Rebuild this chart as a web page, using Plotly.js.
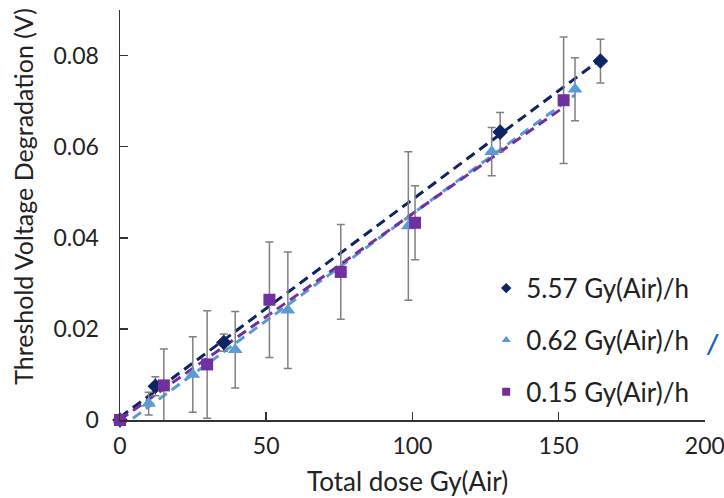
<!DOCTYPE html>
<html><head><meta charset="utf-8">
<script src="https://cdn.plot.ly/plotly-3.0.1.min.js"></script>
<style>html,body{margin:0;padding:0;background:#fff}#chart{width:724px;height:498px}</style>
</head><body><div id="chart"></div>
<script>
// ---- data ----
const seriesNames = ['5.57 Gy(Air)/h', '0.62 Gy(Air)/h', '0.15 Gy(Air)/h'];

const dose557 = [0, 12.1, 35.5, 130, 164.3];
const vth557  = [0, 0.0074, 0.0170, 0.0632, 0.0788];
const err557  = [0, 0.0021, 0.0019, 0.0043, 0.0048];

const dose062 = [0, 9.8, 24.9, 39.4, 57.4, 98.6, 127.1, 155.6];
const vth062  = [0, 0.0036, 0.0100, 0.0154, 0.0241, 0.0426, 0.0589, 0.0726];
const err062  = [0, 0.0025, 0.0083, 0.0084, 0.0128, 0.0163, 0.0053, 0.0069];

const dose015 = [0, 15, 29.8, 51.1, 75.5, 100.9, 151.7];
const vth015  = [0, 0.0076, 0.0122, 0.0264, 0.0325, 0.0433, 0.0702];
const err015  = [0, 0.0080, 0.0118, 0.0127, 0.0104, 0.0081, 0.0139];

const xTicks = [0, 50, 100, 150, 200];
const yTicks = [0, 0.02, 0.04, 0.06, 0.08];
const yTickText = ['0', '0.02', '0.04', '0.06', '0.08'];

const xTitle = 'Total dose Gy(Air)';
const yTitle = 'Threshold Voltage Degradation (V)';

// ---- styling ----
const colors = ['#0e2463', '#5b9bd5', '#7030a0'];
const symbols = ['diamond', 'triangle-up', 'square'];
const sizes = [12, 13, 12];
const FONT = 'Lato, "Open Sans", sans-serif';

function linFit(x, y) {
  const n = x.length;
  let sx = 0, sy = 0, sxx = 0, sxy = 0;
  for (let i = 0; i < n; i++) { sx += x[i]; sy += y[i]; sxx += x[i]*x[i]; sxy += x[i]*y[i]; }
  const m = (n*sxy - sx*sy) / (n*sxx - sx*sx);
  const b = (sy - m*sx) / n;
  return {m, b};
}

const sets = [[dose557, vth557, err557], [dose062, vth062, err062], [dose015, vth015, err015]];
const traces = [];

// trendlines
sets.forEach((s, i) => {
  const f = linFit(s[0], s[1]);
  const xmax = Math.max(...s[0]);
  traces.push({
    x: [0, xmax], y: [f.b, f.b + f.m*xmax], mode: 'lines', showlegend: false, hoverinfo: 'skip',
    line: {color: colors[i], width: 3, dash: '10px,6px'}
  });
});
// data points with error bars
sets.forEach((s, i) => {
  traces.push({
    x: s[0], y: s[1], mode: 'markers', showlegend: false, cliponaxis: false,
    marker: {symbol: symbols[i], size: sizes[i], color: colors[i]},
    error_y: {type: 'data', array: s[2], visible: true, color: '#808080', thickness: 1.5, width: 4}
  });
});
// legend entries (small markers)
sets.forEach((s, i) => {
  traces.push({
    x: [null], y: [null], mode: 'markers', name: seriesNames[i], legendgroup: 'g' + i,
    marker: {symbol: symbols[i], size: 8, color: colors[i]}
  });
});

const L = 119.5, R = 19, T = 10, B = 77.5;
const W = 724 - L - R, H = 498 - T - B;
const px = (x) => (x - L) / W;
const py = (y) => (498 - B - y) / H;

const axisCommon = {
  showline: true, linecolor: '#333', linewidth: 1.5, ticks: 'inside', ticklen: 8, tickwidth: 1.5,
  tickcolor: '#333', showgrid: false, zeroline: false, fixedrange: true,
  tickfont: {family: FONT, size: 23, color: '#222'}, ticklabeloverflow: 'allow'
};

const layout = {
  width: 724, height: 498,
  margin: {l: L, r: R, t: T, b: B, pad: 0},
  paper_bgcolor: '#fff', plot_bgcolor: '#fff',
  font: {family: FONT, color: '#222'},
  xaxis: Object.assign({}, axisCommon, {range: [0, 200.05], tickvals: xTicks, ticklabelstandoff: 5}),
  yaxis: Object.assign({}, axisCommon, {range: [0, 0.09], tickvals: yTicks, ticktext: yTickText, ticklabelstandoff: 15}),
  showlegend: true,
  legend: {
    x: px(486), y: py(265), xanchor: 'left', yanchor: 'top',
    bgcolor: 'rgba(0,0,0,0)', borderwidth: 0,
    font: {family: FONT, size: 26, color: '#222'},
    traceorder: 'grouped', tracegroupgap: 15
  },
  annotations: [
    {text: xTitle, xref: 'paper', yref: 'paper', x: px(407), y: py(482), xanchor: 'center', yanchor: 'middle',
     showarrow: false, font: {family: FONT, size: 26, color: '#222'}},
    {text: yTitle, xref: 'paper', yref: 'paper', x: px(23), y: py(196.5), xanchor: 'center', yanchor: 'middle',
     textangle: -90, showarrow: false, font: {family: FONT, size: 25, color: '#222'}},
    {text: '<b><i>/</i></b>', xref: 'paper', yref: 'paper', x: px(713), y: py(343), xanchor: 'center', yanchor: 'middle',
     showarrow: false, font: {family: FONT, size: 26, color: '#1f5fbf'}}
  ]
};

Plotly.newPlot('chart', traces, layout, {displayModeBar: false, staticPlot: true});
</script>
</body></html>
